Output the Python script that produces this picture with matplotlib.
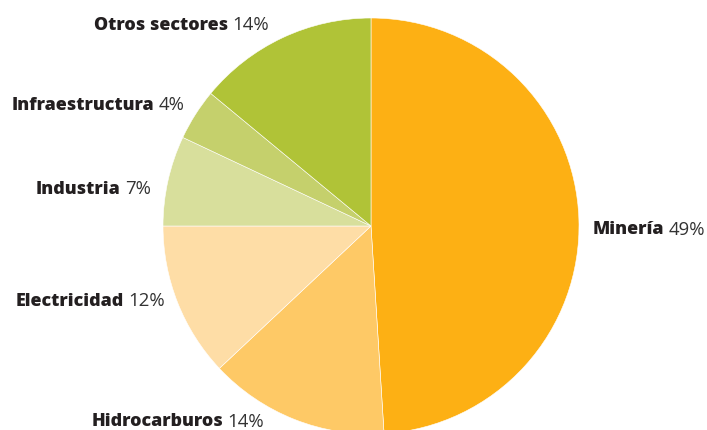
import matplotlib
matplotlib.use("Agg")
import matplotlib.pyplot as plt

categories = ["Minería", "Hidrocarburos", "Electricidad", "Industria", "Infraestructura", "Otros sectores"]
values = [49, 14, 12, 7, 4, 14]
colors = ["#FDB014", "#FEC966", "#FEDDA6", "#D8DF9C", "#C5D06C", "#B0C337"]

# label anchor positions (pixels from left, from top), text left-anchored
label_pos = {
    "Minería": (593, 230),
    "Hidrocarburos": (92, 422),
    "Electricidad": (16, 301),
    "Industria": (36, 189),
    "Infraestructura": (12, 105),
    "Otros sectores": (94, 25),
}

W, H = 707, 430
fig = plt.figure(figsize=(W / 100, H / 100), dpi=100)
ax = fig.add_axes([0, 0, 1, 1])

cx, cy, r = 371, H - 226, 208
ax.pie(values, colors=colors, startangle=90, counterclock=False,
       center=(cx, cy), radius=r, frame=True,
       wedgeprops=dict(edgecolor="#ffffff", linewidth=0.4))
ax.set_xlim(0, W)
ax.set_ylim(0, H)
ax.set_aspect("equal")
ax.axis("off")

fs = 12.9
fs_pct = 13.4
fam = "Open Sans"
fig.canvas.draw()
renderer = fig.canvas.get_renderer()
for cat, v in zip(categories, values):
    x, y = label_pos[cat]
    t = ax.text(x, H - y, cat, fontsize=fs, fontweight="heavy", family=fam,
                color="#231F20", ha="left", va="center")
    bb = t.get_window_extent(renderer=renderer)
    ax.text(bb.x1 + 4, H - y, f"{v}%", fontsize=fs_pct, family=fam,
            color="#333333", ha="left", va="center")

fig.savefig("out.png", dpi=100)
